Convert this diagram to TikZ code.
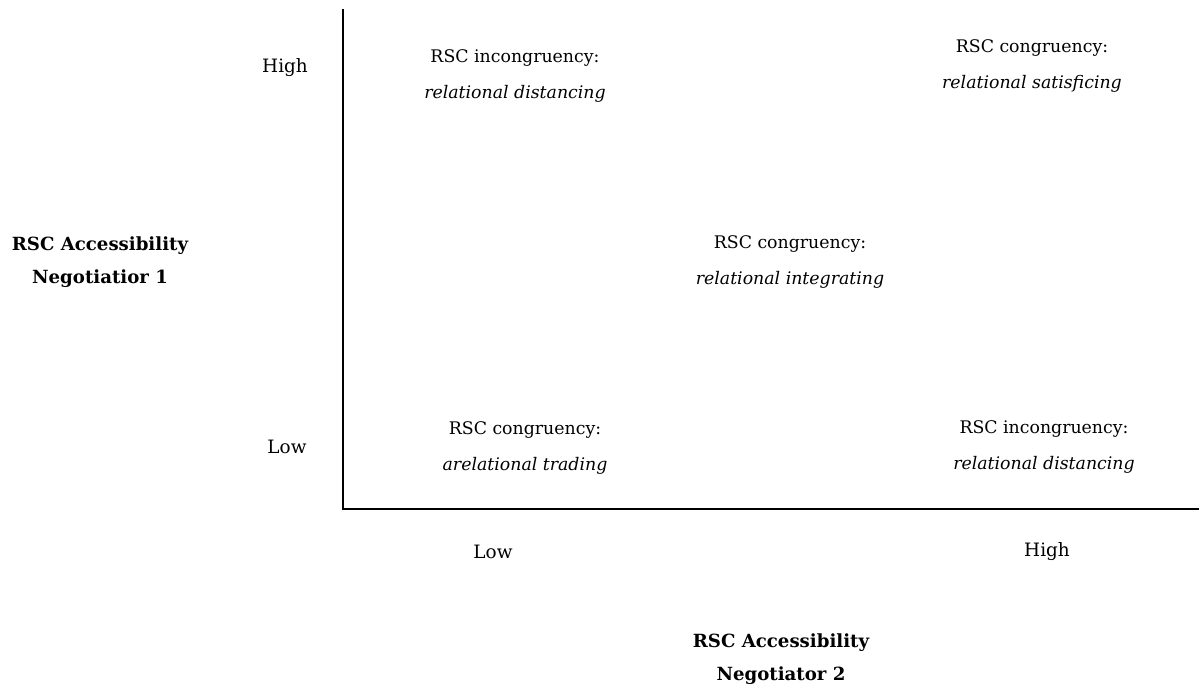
\documentclass[tikz,border=0pt]{standalone}
\usepackage{fontspec}
\setmainfont{DejaVu Serif}
\usepackage{tikz}

\begin{document}
\begin{tikzpicture}[x=0.75pt,y=-0.75pt,
    quad/.style={align=center, inner sep=0pt, font=\fontsize{13}{26.3}\selectfont},
    tick/.style={inner sep=0pt, font=\fontsize{13.8}{15}\selectfont},
    axislabel/.style={align=center, inner sep=0pt, font=\bfseries\fontsize{13.6}{25}\selectfont}]

    \useasboundingbox (0,0) rectangle (1199,686);

    % Axes
    \coordinate (top) at (343,9);
    \coordinate (origin) at (343,509);
    \coordinate (right) at (1199,509);
    \draw[line width=1.6pt] (top) -- (origin) -- (right);

    % Ticks
    \node[tick] (yhigh) at (285,68) {High};
    \node[tick] (ylow) at (287,447) {Low};
    \node[tick] (xlow) at (493,552) {Low};
    \node[tick] (xhigh) at (1047,552) {High};

    % Axis labels
    \node[axislabel] (ylabel) at (100,262) {RSC Accessibility\\Negotiatior 1};
    \node[axislabel] (xlabel) at (781,659) {RSC Accessibility\\Negotiator 2};

    % Quadrants
    \node[quad] (tl) at (515,76) {RSC incongruency:\\\textit{relational distancing}};
    \node[quad] (tr) at (1032,66) {RSC congruency:\\\textit{relational satisficing}};
    \node[quad] (mid) at (790,262) {RSC congruency:\\\textit{relational integrating}};
    \node[quad] (bl) at (525,448) {RSC congruency:\\\textit{arelational trading}};
    \node[quad] (br) at (1044,447) {RSC incongruency:\\\textit{relational distancing}};
\end{tikzpicture}
\end{document}
